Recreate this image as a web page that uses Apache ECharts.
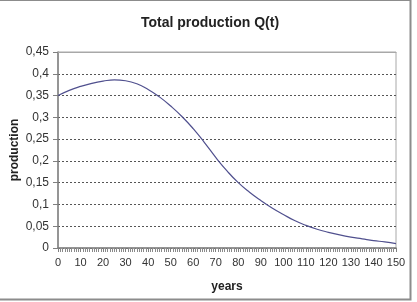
<!DOCTYPE html>
<html>
<head>
<meta charset="utf-8">
<script src="https://cdn.jsdelivr.net/npm/echarts@6/dist/echarts.min.js"></script>
<style>
  html, body { margin: 0; padding: 0; background: #ffffff; }
  #chart { width: 417px; height: 302px; }
</style>
</head>
<body>
<div id="chart"></div>
<script>
// years and the production (every 5 years)
const years = [0, 5, 10, 15, 20, 25, 30, 35, 40, 45, 50, 55, 60, 65, 70, 75,
  80, 85, 90, 95, 100, 105, 110, 115, 120, 125, 130, 135, 140, 145, 150]
const production = [0.350, 0.362, 0.371, 0.378, 0.383, 0.386, 0.384, 0.377, 0.364, 0.347,
  0.326, 0.302, 0.274, 0.242, 0.208, 0.177, 0.150, 0.128, 0.109, 0.092,
  0.077, 0.063, 0.052, 0.043, 0.036, 0.030, 0.025, 0.021, 0.017, 0.014, 0.010]
const yTicks = [0, 0.05, 0.1, 0.15, 0.2, 0.25, 0.3, 0.35, 0.4, 0.45]

const chart = echarts.init(document.getElementById('chart'))
const font = 'Liberation Sans, Arial, sans-serif'

chart.setOption({
  animation: false,
  textStyle: { fontFamily: font },
  title: {
    text: 'Total production Q(t)',
    left: 205,
    textAlign: 'center',
    top: 11,
    textStyle: { fontSize: 14, fontWeight: 'bold', color: '#222', fontFamily: font }
  },
  graphic: [{
    type: 'rect',
    shape: { x: -1, y: 0, width: 411.5, height: 299.5 },
    style: { fill: 'none', stroke: '#8c8c8c', lineWidth: 2 },
    silent: true
  }],
  grid: {
    left: 58, right: 21, top: 52, bottom: 54,
    outerBoundsMode: 'none',
    show: true, borderColor: '#a8a8a8', borderWidth: 1
  },
  xAxis: [{
    type: 'value',
    min: 0, max: 150, interval: 10,
    name: 'years',
    nameLocation: 'middle',
    nameGap: 33,
    nameMoveOverlap: false,
    nameTextStyle: { fontSize: 12, fontWeight: 'bold', color: '#222' },
    axisLine: { lineStyle: { color: '#808080', width: 1.5 } },
    axisTick: { length: 4, lineStyle: { color: '#808080' } },
    minorTick: { show: true, splitNumber: 10, length: 4, lineStyle: { color: '#8a8a8a' } },
    axisLabel: { fontSize: 11, color: '#333', margin: 9 },
    splitLine: { show: false }
  }, {
    type: 'value',
    position: 'top',
    min: 0, max: 150,
    axisLine: { show: true, lineStyle: { color: '#a8a8a8', width: 1 } },
    axisTick: { show: false },
    axisLabel: { show: false },
    splitLine: { show: false }
  }],
  yAxis: {
    type: 'value',
    min: 0, max: 0.45, interval: 0.05,
    name: 'production',
    nameLocation: 'middle',
    nameGap: 37,
    nameMoveOverlap: false,
    nameTextStyle: { fontSize: 12, fontWeight: 'bold', color: '#222' },
    axisLine: { show: true, lineStyle: { color: '#808080', width: 1.5 } },
    axisTick: { show: true, length: 5, lineStyle: { color: '#808080' } },
    axisLabel: {
      fontSize: 12, color: '#333', margin: 9,
      formatter: v => String(+v.toFixed(2)).replace('.', ',')
    },
    splitLine: { lineStyle: { color: '#555', type: [2, 2], width: 1 } }
  },
  series: [{
    type: 'line',
    xAxisIndex: 0,
    data: years.map((t, i) => [t, production[i]]),
    smooth: true,
    showSymbol: false,
    lineStyle: { color: '#50508e', width: 1.2 }
  }]
})
</script>
</body>
</html>
